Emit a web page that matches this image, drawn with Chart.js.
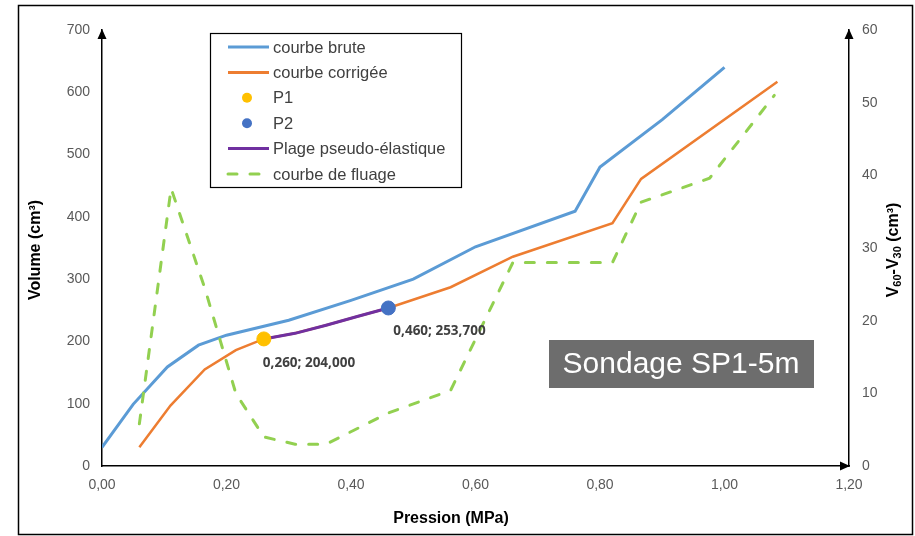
<!DOCTYPE html>
<html>
<head>
<meta charset="utf-8">
<script src="https://cdn.jsdelivr.net/npm/chart.js@4"></script>
<style>
  html, body { margin: 0; padding: 0; background: #fff; }
  canvas { display: block; }
</style>
</head>
<body>
<canvas id="chart" width="915" height="536"></canvas>
<script>
// pressiomètre : courbe brute / corrigée (cm3) et courbe de fluage V60-V30
const brutePression = [0, 0.05, 0.105, 0.155, 0.20, 0.30, 0.40, 0.50, 0.60, 0.76, 0.80, 0.90, 1.00];
const bruteVolume = [30, 99, 159, 194, 210, 234, 266, 300, 352, 409, 480, 556, 640];

const corrPression = [0.06, 0.11, 0.165, 0.215, 0.26, 0.31, 0.36, 0.41, 0.46, 0.56, 0.66, 0.82, 0.866, 1.085];
const corrVolume = [30, 97, 155, 186, 204, 213, 226, 240, 253.7, 287, 336, 390, 461, 617];

const plagePression = [0.26, 0.31, 0.36, 0.41, 0.46];
const plageVolume = [204, 213, 226, 240, 253.7];

const p1 = [0.26, 204];
const p2 = [0.46, 253.7];

const fluagePression = [0.06, 0.111, 0.165, 0.215, 0.26, 0.31, 0.36, 0.46, 0.56, 0.66, 0.82, 0.866, 0.976, 1.08];
const fluageV = [5.8, 38.2, 24.5, 10, 4, 3, 3, 7.3, 10.4, 28, 28, 36.3, 39.6, 51];

const xTicks = { min: 0, max: 1.2, step: 0.2 };
const volTicks = { min: 0, max: 700, step: 100 };
const fluageTicks = { min: 0, max: 60, step: 10 };

const toXY = (xs, ys) => xs.map((x, i) => ({ x, y: ys[i] }));
const fr = (v, d) => v.toFixed(d).replace('.', ',');

const TICK_FONT = { family: 'Liberation Sans', size: 14 };
const TICK_COLOR = '#595959';

// cadre, flèches, titres d'axes, légende, étiquettes P1/P2, cartouche
const decor = {
  id: 'decor',
  beforeDraw(chart) {
    const { ctx, width, height } = chart;
    ctx.save();
    ctx.fillStyle = '#fff';
    ctx.fillRect(0, 0, width, height);
    ctx.restore();
  },
  afterDatasetsDraw(chart) {
    const { ctx, chartArea: a } = chart;
    ctx.save();

    // flèches d'axes
    ctx.fillStyle = '#000';
    const tri = (pts) => {
      ctx.beginPath();
      ctx.moveTo(pts[0], pts[1]); ctx.lineTo(pts[2], pts[3]); ctx.lineTo(pts[4], pts[5]);
      ctx.closePath(); ctx.fill();
    };
    tri([a.left, a.top - 1, a.left - 4.5, a.top + 9, a.left + 4.5, a.top + 9]);
    tri([a.right, a.top - 1, a.right - 4.5, a.top + 9, a.right + 4.5, a.top + 9]);
    tri([a.right + 1, a.bottom, a.right - 9, a.bottom - 4.5, a.right - 9, a.bottom + 4.5]);

    // cadre extérieur
    ctx.strokeStyle = '#000';
    ctx.lineWidth = 1.5;
    ctx.strokeRect(18.5, 5.5, 894, 529);

    // titres d'axes
    ctx.fillStyle = '#000';
    ctx.font = 'bold 16px "Liberation Sans"';
    ctx.textAlign = 'center';
    ctx.textBaseline = 'middle';
    ctx.fillText('Pression (MPa)', 451, 519);

    ctx.save();
    ctx.translate(36, 250);
    ctx.rotate(-Math.PI / 2);
    ctx.fillText('Volume (cm³)', 0, 0);
    ctx.restore();

    // V60-V30 avec indices
    ctx.save();
    ctx.translate(894, 250);
    ctx.rotate(-Math.PI / 2);
    const parts = [
      ['V', 16, 0], ['60', 11, 4], ['-V', 16, 0], ['30', 11, 4], [' (cm³)', 16, 0]
    ];
    let total = 0;
    for (const [t, s] of parts) { ctx.font = `bold ${s}px "Liberation Sans"`; total += ctx.measureText(t).width; }
    let cx = -total / 2;
    ctx.textAlign = 'left';
    for (const [t, s, dy] of parts) {
      ctx.font = `bold ${s}px "Liberation Sans"`;
      ctx.fillText(t, cx, dy);
      cx += ctx.measureText(t).width;
    }
    ctx.restore();

    // étiquettes des points P1 et P2
    ctx.fillStyle = '#404040';
    ctx.font = 'bold 13.5px "Open Sans"';
    ctx.textAlign = 'left';
    ctx.textBaseline = 'middle';
    const xs = chart.scales.x, ys = chart.scales.y;
    const lab = (p, dx, dy) => {
      ctx.fillText(fr(p[0], 3) + '; ' + fr(p[1], 3), xs.getPixelForValue(p[0]) + dx, ys.getPixelForValue(p[1]) + dy);
    };
    lab(p1, -1, 24);
    lab(p2, 5, 23);

    // cartouche
    ctx.fillStyle = '#6d6d6d';
    ctx.fillRect(549, 340, 265, 48);
    ctx.fillStyle = '#fff';
    ctx.font = '30px "Liberation Sans"';
    ctx.textAlign = 'center';
    ctx.fillText('Sondage SP1-5m', 681, 365);

    // légende
    const lx = 210, ly = 33, lw = 251, lh = 154;
    ctx.fillStyle = '#fff';
    ctx.fillRect(lx, ly, lw, lh);
    ctx.strokeStyle = '#000';
    ctx.lineWidth = 1.2;
    ctx.strokeRect(lx + 0.5, ly + 0.5, lw, lh);
    ctx.font = '16.5px "Liberation Sans"';
    ctx.textAlign = 'left';
    chart.data.datasets.forEach((ds, i) => {
      const y = 47 + i * 25.4;
      if (ds.showLine) {
        ctx.strokeStyle = ds.borderColor;
        ctx.lineWidth = 3;
        ctx.setLineDash(ds.borderDash || []);
        ctx.lineCap = ds.borderDash ? 'round' : 'butt';
        ctx.beginPath();
        ctx.moveTo(228, y); ctx.lineTo(269, y);
        ctx.stroke();
        ctx.setLineDash([]);
      } else {
        ctx.fillStyle = ds.backgroundColor;
        ctx.beginPath();
        ctx.arc(247, y, 5, 0, Math.PI * 2);
        ctx.fill();
      }
      ctx.fillStyle = '#404040';
      ctx.fillText(ds.label, 273, y + 1);
    });

    ctx.restore();
  }
};

new Chart(document.getElementById('chart'), {
  type: 'scatter',
  data: {
    datasets: [
      {
        label: 'courbe brute', data: toXY(brutePression, bruteVolume), showLine: true,
        borderColor: '#5b9bd5', borderWidth: 3, pointRadius: 0, yAxisID: 'y', order: 3
      },
      {
        label: 'courbe corrigée', data: toXY(corrPression, corrVolume), showLine: true,
        borderColor: '#ed7d31', borderWidth: 2.5, pointRadius: 0, yAxisID: 'y', order: 4
      },
      {
        label: 'P1', data: [{ x: p1[0], y: p1[1] }], showLine: false,
        backgroundColor: '#ffc000', borderColor: '#ffc000', pointRadius: 7, yAxisID: 'y', order: 0
      },
      {
        label: 'P2', data: [{ x: p2[0], y: p2[1] }], showLine: false,
        backgroundColor: '#4472c4', borderColor: '#4472c4', pointRadius: 7, yAxisID: 'y', order: 0
      },
      {
        label: 'Plage pseudo-élastique', data: toXY(plagePression, plageVolume), showLine: true,
        borderColor: '#7030a0', borderWidth: 3, pointRadius: 0, yAxisID: 'y', order: 1
      },
      {
        label: 'courbe de fluage', data: toXY(fluagePression, fluageV), showLine: true,
        borderColor: '#92d050', borderWidth: 3, borderDash: [9, 13], borderCapStyle: 'round',
        pointRadius: 0, yAxisID: 'y2', order: 2
      }
    ]
  },
  options: {
    responsive: false,
    animation: false,
    layout: { padding: { top: 30 } },
    plugins: { legend: { display: false }, tooltip: { enabled: false } },
    scales: {
      x: {
        type: 'linear', min: xTicks.min, max: xTicks.max,
        grid: { display: false, drawTicks: false },
        border: { display: true, color: '#000', width: 1.5 },
        ticks: {
          stepSize: xTicks.step, padding: 11, font: TICK_FONT, color: TICK_COLOR,
          callback: v => fr(v, 2)
        },
        afterFit: s => { s.height = 70; }
      },
      y: {
        position: 'left', min: volTicks.min, max: volTicks.max,
        grid: { display: false, drawTicks: false },
        border: { display: true, color: '#000', width: 1.5 },
        ticks: { stepSize: volTicks.step, padding: 12, font: TICK_FONT, color: TICK_COLOR },
        afterFit: s => { s.width = 102; }
      },
      y2: {
        position: 'right', min: fluageTicks.min, max: fluageTicks.max,
        grid: { display: false, drawTicks: false },
        border: { display: true, color: '#000', width: 1.5 },
        ticks: { stepSize: fluageTicks.step, padding: 13, font: TICK_FONT, color: TICK_COLOR },
        afterFit: s => { s.width = 66; }
      }
    }
  },
  plugins: [decor]
});
</script>
</body>
</html>
